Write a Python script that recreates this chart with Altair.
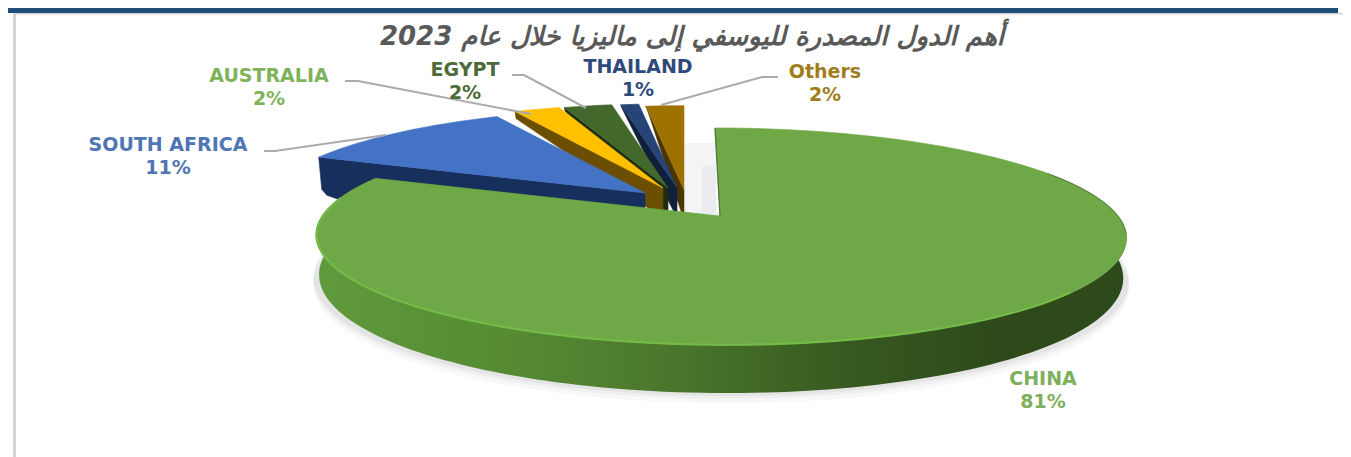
import math
import altair as alt
import pandas as pd

# ---- chart values ----
categories = ["CHINA", "SOUTH AFRICA", "AUSTRALIA", "EGYPT", "THAILAND", "Others"]
values = [81.3, 11.2, 2.3, 2.4, 0.9, 1.9]
percent_labels = ["81%", "11%", "2%", "2%", "1%", "2%"]
title_text = "أهم الدول المصدرة لليوسفي إلى ماليزيا خلال عام 2023"

# ---- styles ----
top_colors = ["#6EA847", "#4472C4", "#FFC000", "#43682B", "#264478", "#9E7200"]
side_colors = ["#4E7A2D", "#172F5C", "#6B4E00", "#1C2D12", "#101F3A", "#4A3600"]
label_colors = ["#7DB05C", "#4F75B5", "#7FB35A", "#4C6B36", "#2F4A7A", "#A07D1C"]
label_x = [1043, 168, 269, 465, 638, 825]
label_y = [380, 146, 77, 71, 68, 73]
tips = [(720, 216), (645, 193), (663, 188), (668, 188), (677, 188), (684, 190)]
radius = [1.0, 0.95, 0.95, 0.95, 0.95, 0.95]
face_depth = [0, 40, 7, 4, 3, 2]
K, AX, AY, SHEAR = 0.189, 398.0, 104.7, 0.057


def project(theta, ox, oy, r=1.0, wide=1.0, dy=0.0, shear=SHEAR):
    u, v = r * math.sin(theta), r * math.cos(theta)
    s = 1 / (1 + K * v)
    y = -AY * v * s
    return ox + wide * AX * u * s + shear * y, oy + y + dy


def depth(theta):
    return 38 - 10 * math.cos(theta)


def arc(a0, a1, ox, oy, r=1.0, wide=1.0, extra=0.0, with_depth=False, shear=SHEAR):
    n = max(2, int(abs(a1 - a0) / 1.5) + 1)
    pts = []
    for i in range(n + 1):
        t = math.radians(a0 + (a1 - a0) * i / n)
        pts.append(project(t, ox, oy, r, wide, extra + (depth(t) if with_depth else 0), shear))
    return pts


X = alt.X("x:Q", scale=alt.Scale(domain=[8, 1343], nice=False, zero=False), axis=None)
Y = alt.Y("y:Q", scale=alt.Scale(domain=[457, 8], nice=False, zero=False), axis=None)


def poly(pts, fill, stroke=None, sw=0.6, opacity=1.0):
    df = pd.DataFrame({"x": [p[0] for p in pts], "y": [p[1] for p in pts], "i": range(len(pts))})
    return alt.Chart(df).mark_line(
        interpolate="linear-closed", fill=fill, stroke=stroke or "transparent",
        strokeWidth=sw, opacity=opacity, clip=True,
    ).encode(x=X, y=Y, order="i:Q")


def stroke_line(pts, color, sw, opacity=1.0):
    df = pd.DataFrame({"x": [p[0] for p in pts], "y": [p[1] for p in pts], "i": range(len(pts))})
    return alt.Chart(df).mark_line(color=color, strokeWidth=sw, opacity=opacity).encode(x=X, y=Y, order="i:Q")


layers = []

# page furniture
rects = pd.DataFrame({
    "x": [8, 13, 13], "x2": [1338, 16, 1343], "y": [8, 13, 13], "y2": [13, 457, 14.5],
    "c": ["#1F4E79", "#D4D4D4", "#D4D4D4"],
})
layers.append(alt.Chart(rects).mark_rect().encode(
    x=X, x2="x2:Q", y=Y, y2="y2:Q", color=alt.Color("c:N", scale=None)))

# start and end angles of each slice, clockwise from 12 o'clock
total = sum(values)
starts, ends, c = [], [], 0.0
for val in values:
    starts.append(c / total * 360)
    c += val
    ends.append(c / total * 360)

# faint shadows behind the pie
cx, cy = tips[0]
for extra, op in [(10, 0.05), (6, 0.07), (3, 0.09)]:
    layers.append(poly(arc(60, 290, cx, cy, wide=1.006, extra=extra, with_depth=True), "#808080", opacity=op))
layers.append(poly([(685, 143), (716, 143), (716, 214), (685, 214)], "#F4F4F6"))
layers.append(poly([(702, 166), (716, 166), (716, 214), (702, 214)], "#ECECF0"))

# small slices: each one is drawn over its right-hand neighbour
for i in range(5, 0, -1):
    ox, oy = tips[i]
    r = radius[i]
    outer = project(math.radians(starts[i]), ox, oy, r, shear=0)
    d = face_depth[i]
    if i == 1:
        face = [outer, (ox, oy), (ox, oy + 30), (outer[0] + 25, outer[1] + 44),
                (outer[0] + 8, outer[1] + 38), (outer[0] + 3, outer[1] + 32)]
    else:
        face = [outer, (ox, oy), (ox, oy + 30), (outer[0] + 1, outer[1] + d)]
    layers.append(poly(face, side_colors[i], stroke=side_colors[i]))
    layers.append(poly([(ox, oy)] + arc(starts[i], ends[i], ox, oy, r, shear=0), top_colors[i], stroke=top_colors[i]))

# China: wall with shading, then top surface
wall = arc(62, 292, cx, cy) + arc(292, 62, cx, cy, wide=0.992, with_depth=True)
wall_fill = alt.Gradient(
    gradient="linear", x1=0, x2=1, y1=0, y2=0,
    stops=[
        alt.GradientStop(color="#5F9A3C", offset=0),
        alt.GradientStop(color="#558A33", offset=0.25),
        alt.GradientStop(color="#4A752C", offset=0.45),
        alt.GradientStop(color="#365A20", offset=0.65),
        alt.GradientStop(color="#2E4A1A", offset=0.85),
        alt.GradientStop(color="#2D4A1B", offset=1),
    ],
)
layers.append(poly(wall, wall_fill))
layers.append(poly([(cx, cy)] + arc(starts[0], ends[0], cx, cy), top_colors[0], stroke=top_colors[0]))
layers.append(stroke_line(arc(130, 280, cx, cy, r=0.998), "#76BC48", 2.2, 0.9))
layers.append(stroke_line(arc(64, 100, cx, cy), "#3F5F28", 1.0, 0.6))
layers.append(stroke_line([(cx, cy), project(0, cx, cy)], "#3F5F28", 1.2, 0.8))

# leader lines
leader_id = ["SA", "SA", "SA", "AU", "AU", "AU", "EG", "EG", "EG", "OT", "OT", "OT"]
leader_x = [264, 275, 386, 345, 358, 531, 512, 524, 586, 661, 762, 778]
leader_y = [151, 151, 135, 81, 81, 114, 75, 75, 108, 105, 77, 77]
leaders = pd.DataFrame({"id": leader_id, "x": leader_x, "y": leader_y, "i": range(len(leader_x))})
layers.append(alt.Chart(leaders).mark_line(color="#ABABAB", strokeWidth=2).encode(
    x=X, y=Y, detail="id:N", order="i:Q"))

# labels
labels = pd.DataFrame({
    "x": label_x + label_x,
    "y": [v - 1.5 for v in label_y] + [v + 21.5 for v in label_y],
    "t": categories + percent_labels,
    "c": label_colors + label_colors,
})
layers.append(alt.Chart(labels).mark_text(
    font="DejaVu Sans", fontWeight="bold", fontSize=19, align="center", baseline="middle"
).encode(x=X, y=Y, text="t:N", color=alt.Color("c:N", scale=None)))

# title
layers.append(alt.Chart(pd.DataFrame({"x": [692], "y": [37], "t": [title_text]})).mark_text(
    font="DejaVu Sans", fontWeight="bold", fontStyle="italic", fontSize=26, color="#595959",
    align="center", baseline="middle",
).encode(x=X, y=Y, text="t:N"))

chart = alt.layer(*layers).properties(width=1335, height=449, padding=0).configure_view(stroke=None)
chart.save("out.html", embed_options={"renderer": "svg", "actions": False})
